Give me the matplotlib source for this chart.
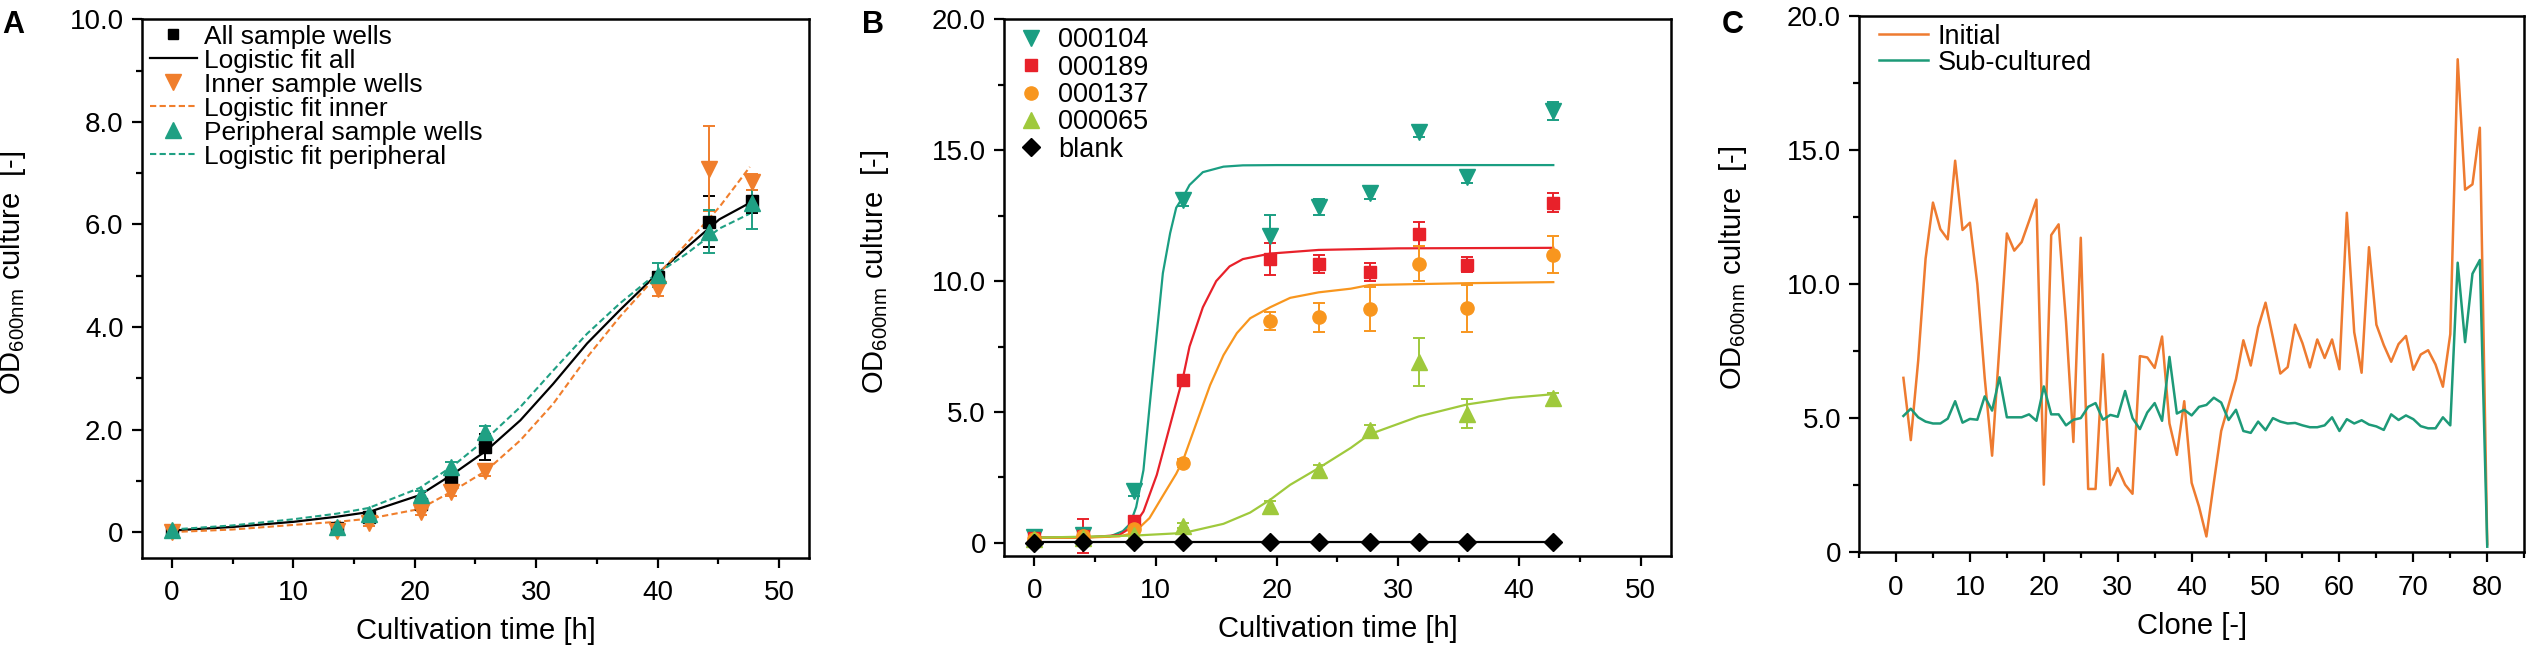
import matplotlib
matplotlib.use("Agg")
import matplotlib.pyplot as plt
from matplotlib.ticker import MultipleLocator, FuncFormatter
from matplotlib.lines import Line2D

plt.rcParams['font.family'] = ['Liberation Sans', 'DejaVu Sans']
plt.rcParams['mathtext.fontset'] = 'custom'
plt.rcParams['mathtext.rm'] = 'Liberation Sans'

# ---- Panel A: sample wells ----
time_a = [0, 13.6, 16.2, 20.5, 23.0, 25.8, 40.0, 44.2, 47.75]
all_wells = [0.02, 0.08, 0.29, 0.55, 1.04, 1.66, 4.98, 6.05, 6.45]
all_err = [0.03, 0.05, 0.05, 0.08, 0.12, 0.25, 0.1, 0.5, 0.22]
inner_wells = [0.0, 0.02, 0.17, 0.39, 0.78, 1.2, 4.75, 7.09, 6.83]
inner_err = [0.03, 0.05, 0.05, 0.05, 0.08, 0.1, 0.15, 0.83, 0.15]
peri_wells = [0.05, 0.1, 0.35, 0.73, 1.27, 1.95, 5.01, 5.86, 6.41]
peri_err = [0.03, 0.05, 0.05, 0.08, 0.1, 0.12, 0.24, 0.42, 0.5]

fit_time_a = [0, 5, 10, 13.6, 16.2, 20.4, 23.2, 25.9, 28.7, 31.4, 34.2, 36.9, 39.6, 42.4, 45.1, 47.6]
fit_all = [0.03, 0.1, 0.2, 0.30, 0.39, 0.72, 1.14, 1.59, 2.18, 2.89, 3.68, 4.33, 4.95, 5.55, 6.1, 6.42]
fit_inner = [0.0, 0.05, 0.14, 0.2, 0.26, 0.45, 0.81, 1.2, 1.79, 2.5, 3.41, 4.2, 4.91, 5.63, 6.34, 7.12]
fit_peri = [0.05, 0.13, 0.25, 0.36, 0.47, 0.86, 1.30, 1.82, 2.44, 3.15, 3.87, 4.46, 4.98, 5.43, 5.92, 6.21]

# ---- Panel B: clones ----
time_b = [0, 4.0, 8.2, 12.3, 19.45, 23.45, 27.65, 31.7, 35.7, 42.8]
clone_names = ['000104', '000189', '000137', '000065', 'blank']
od_104 = [0.24, 0.31, 1.98, 13.1, 11.72, 12.82, 13.38, 15.7, 13.98, 16.5]
err_104 = [0.15, 0.1, 0.2, 0.25, 0.8, 0.3, 0.25, 0.2, 0.25, 0.35]
od_189 = [0.17, 0.28, 0.85, 6.22, 10.84, 10.66, 10.35, 11.8, 10.63, 13.0]
err_189 = [0.1, 0.65, 0.15, 0.1, 0.62, 0.35, 0.35, 0.45, 0.3, 0.35]
od_137 = [0.15, 0.25, 0.52, 3.04, 8.47, 8.62, 8.93, 10.67, 8.96, 11.01]
err_137 = [0.1, 0.1, 0.1, 0.15, 0.35, 0.55, 0.83, 0.66, 0.9, 0.72]
od_065 = [0.15, 0.2, 0.3, 0.66, 1.4, 2.78, 4.3, 6.91, 4.93, 5.54]
err_065 = [0.05, 0.1, 0.1, 0.1, 0.2, 0.2, 0.2, 0.9, 0.55, 0.2]
od_blank = [0.0, 0.05, 0.02, 0.03, 0.03, 0.03, 0.03, 0.03, 0.03, 0.05]
err_blank = [0.02] * 10

fit_t_104 = [0, 4, 6.2, 7.3, 7.9, 8.4, 9.0, 9.5, 10.1, 10.6, 11.2, 11.7, 12.3, 12.8, 13.9, 15.6, 17.2, 20, 30, 42.8]
fit_104 = [0.2, 0.22, 0.24, 0.45, 0.73, 1.37, 2.78, 5.19, 8.0, 10.3, 11.83, 12.8, 13.24, 13.67, 14.16, 14.37, 14.42, 14.43, 14.43, 14.43]
fit_t_189 = [0, 4, 7, 8.2, 9.0, 10.1, 11.2, 12.3, 12.8, 13.9, 15.0, 16.1, 17.2, 19.45, 23.45, 30, 42.8]
fit_189 = [0.2, 0.2, 0.3, 0.66, 1.2, 2.6, 4.5, 6.4, 7.5, 9.0, 10.0, 10.56, 10.84, 11.05, 11.19, 11.25, 11.27]
fit_t_137 = [0, 4, 7, 8.2, 9.5, 10.6, 11.7, 12.3, 13.4, 14.5, 15.6, 16.7, 17.8, 19.45, 21.1, 23.45, 26.1, 27.65, 35.7, 42.8]
fit_137 = [0.2, 0.2, 0.25, 0.38, 0.95, 1.8, 2.64, 3.2, 4.62, 6.03, 7.17, 8.01, 8.58, 9.0, 9.36, 9.57, 9.71, 9.85, 9.92, 9.96]
fit_t_065 = [0, 8.2, 12.3, 15.6, 17.8, 19.45, 21.1, 23.45, 26.1, 27.65, 31.7, 35.7, 39.3, 42.8]
fit_065 = [0.2, 0.28, 0.38, 0.73, 1.16, 1.65, 2.22, 2.86, 3.63, 4.15, 4.83, 5.29, 5.54, 5.68]
fit_t_blank = [0, 42.8]
fit_blank = [0.05, 0.05]

# ---- Panel C: clone screening ----
clones = list(range(1, 81))
initial = [6.50, 4.18, 7.14, 10.94, 13.03, 12.04, 11.66, 14.59, 12.01, 12.28,
           10.0, 6.5, 3.6, 7.7, 11.88, 11.24, 11.56, 12.34, 13.14, 2.52,
           11.82, 12.22, 8.6, 4.11, 11.72, 2.36, 2.36, 7.38, 2.5, 3.14,
           2.52, 2.18, 7.31, 7.26, 6.87, 8.04, 4.8, 3.63, 5.63, 2.59,
           1.70, 0.59, 2.59, 4.52, 5.49, 6.45, 7.90, 6.96, 8.38, 9.30,
           8.0, 6.66, 6.9, 8.48, 7.79, 6.89, 7.93, 7.24, 7.93, 6.82,
           12.65, 8.2, 6.69, 11.37, 8.48, 7.72, 7.1, 7.76, 8.06, 6.8,
           7.37, 7.53, 7.0, 6.17, 8.13, 18.37, 13.51, 13.71, 15.82, 0.3]
subcultured = [5.08, 5.35, 5.03, 4.87, 4.8, 4.8, 4.98, 5.63, 4.83, 4.97,
               4.94, 5.81, 5.28, 6.52, 5.03, 5.03, 5.03, 5.14, 4.9, 6.18,
               5.14, 5.14, 4.73, 4.94, 5.0, 5.42, 5.56, 4.94, 5.12, 5.05,
               6.01, 5.0, 4.59, 5.21, 5.56, 4.9, 7.28, 5.17, 5.31, 5.1,
               5.42, 5.49, 5.76, 5.58, 4.93, 5.31, 4.52, 4.45, 4.87, 4.55,
               5.0, 4.87, 4.8, 4.82, 4.73, 4.66, 4.66, 4.73, 5.03, 4.52,
               4.96, 4.8, 4.92, 4.76, 4.69, 4.56, 5.14, 4.93, 5.1, 4.96,
               4.7, 4.62, 4.62, 5.03, 4.73, 10.79, 7.83, 10.38, 10.89, 0.21]

ORANGE = '#F07E2C'
TEAL = '#1FA083'
ylabel = 'OD$_{\\mathrm{600nm}}$ culture  [-]'


def fmt_tick(v, pos):
    return '0' if abs(v) < 1e-9 else f'{v:.1f}'


def style(ax, ymaj, ymin, xmaj, xmin):
    for side in ['left', 'right', 'top', 'bottom']:
        ax.spines[side].set_linewidth(1.8)
    ax.tick_params(which='major', direction='out', length=7, width=1.6, labelsize=20, pad=6,
                   top=False, right=False)
    ax.tick_params(which='minor', direction='out', length=4.5, width=1.6, top=False, right=False)
    ax.tick_params(axis='x', which='major', pad=9)
    ax.yaxis.set_major_locator(MultipleLocator(ymaj))
    ax.yaxis.set_minor_locator(MultipleLocator(ymin))
    ax.xaxis.set_major_locator(MultipleLocator(xmaj))
    ax.xaxis.set_minor_locator(MultipleLocator(xmin))
    ax.yaxis.set_major_formatter(FuncFormatter(fmt_tick))
    ax.set_ylabel(ylabel, fontsize=21)
    ax.yaxis.set_label_coords(-0.17, 0.53)


fig = plt.figure(figsize=(25.29, 6.52), dpi=100)
ax_a = fig.add_axes([0.0560, 0.1446, 0.2640, 0.8258])
ax_b = fig.add_axes([0.3970, 0.1472, 0.2637, 0.8233])
ax_c = fig.add_axes([0.7351, 0.1529, 0.2630, 0.8233])

# Panel A
eb = dict(capsize=4.5, elinewidth=1.4, capthick=1.4, linestyle='none')
ax_a.plot(fit_time_a, fit_all, color='black', lw=1.6, zorder=3)
ax_a.plot(fit_time_a, fit_inner, color=ORANGE, lw=1.5, ls=(0, (3, 1.6)), zorder=3)
ax_a.plot(fit_time_a, fit_peri, color=TEAL, lw=1.5, ls=(0, (3, 1.6)), zorder=3)
ax_a.errorbar(time_a, all_wells, yerr=all_err, fmt='s', color='black', ms=8, zorder=4, **eb)
ax_a.errorbar(time_a, inner_wells, yerr=inner_err, fmt='v', color=ORANGE, ms=12, zorder=4, **eb)
ax_a.errorbar(time_a, peri_wells, yerr=peri_err, fmt='^', color=TEAL, ms=12, zorder=4, **eb)
ax_a.set_xlim(-2.5, 52.5)
ax_a.set_ylim(-0.5, 10)
style(ax_a, 2, 1, 10, 5)
ax_a.set_xlabel('Cultivation time [h]', fontsize=21, labelpad=8)

handles_a = [
    Line2D([], [], marker='s', color='black', ls='none', ms=7.5),
    Line2D([], [], color='black', lw=1.6),
    Line2D([], [], marker='v', color=ORANGE, ls='none', ms=12),
    Line2D([], [], color=ORANGE, lw=1.5, ls=(0, (3, 1.6))),
    Line2D([], [], marker='^', color=TEAL, ls='none', ms=12),
    Line2D([], [], color=TEAL, lw=1.5, ls=(0, (3, 1.6))),
]
labels_a = ['All sample wells', 'Logistic fit all', 'Inner sample wells',
            'Logistic fit inner', 'Peripheral sample wells', 'Logistic fit peripheral']
ax_a.legend(handles_a, labels_a, loc='upper left', bbox_to_anchor=(0.012, 0.99), frameon=False,
            fontsize=19, handlelength=1.8, handletextpad=0.25, labelspacing=0.0,
            borderpad=0, borderaxespad=0)

# Panel B
clone_colors = ['#1A9E82', '#E8212A', '#F8961E', '#9FC93C', 'black']
clone_markers = ['v', 's', 'o', '^', 'D']
clone_ms = [12, 8.5, 9.5, 12, 9]
od_b = [od_104, od_189, od_137, od_065, od_blank]
err_b = [err_104, err_189, err_137, err_065, err_blank]
fit_t_b = [fit_t_104, fit_t_189, fit_t_137, fit_t_065, fit_t_blank]
fit_b = [fit_104, fit_189, fit_137, fit_065, fit_blank]
for i in range(5):
    ax_b.plot(fit_t_b[i], fit_b[i], color=clone_colors[i], lw=1.6, zorder=3)
for i in range(5):
    ax_b.errorbar(time_b, od_b[i], yerr=err_b[i], fmt=clone_markers[i], color=clone_colors[i],
                  ms=clone_ms[i], label=clone_names[i], zorder=4, **eb)
ax_b.set_xlim(-2.5, 52.5)
ax_b.set_ylim(-0.5, 20)
style(ax_b, 5, 2.5, 10, 5)
ax_b.set_xlabel('Cultivation time [h]', fontsize=21, labelpad=8)
handles_b = [Line2D([], [], marker=clone_markers[i], color=clone_colors[i], ls='none', ms=clone_ms[i])
             for i in range(5)]
ax_b.legend(handles_b, clone_names, loc='upper left', bbox_to_anchor=(0.02, 0.985), frameon=False,
            fontsize=19.5, handlelength=1.0, handletextpad=0.5, labelspacing=0.05,
            borderpad=0, borderaxespad=0)

# Panel C
ax_c.plot(clones, initial, color='#EE7B30', lw=1.8, label='Initial')
ax_c.plot(clones, subcultured, color='#1D9A78', lw=1.8, label='Sub-cultured')
ax_c.set_xlim(-5, 85)
ax_c.set_ylim(0, 20)
style(ax_c, 5, 2.5, 10, 5)
ax_c.yaxis.set_label_coords(-0.165, 0.53)
ax_c.set_xlabel('Clone [-]', fontsize=21, labelpad=8)
ax_c.legend(loc='upper left', bbox_to_anchor=(0.03, 0.985), frameon=False, fontsize=19.5,
            handlelength=1.8, handletextpad=0.35, labelspacing=0.0, borderpad=0, borderaxespad=0)

# Panel letters
fig.text(0.001, 0.985, 'A', fontsize=22, fontweight='bold', va='top', ha='left')
fig.text(0.341, 0.985, 'B', fontsize=22, fontweight='bold', va='top', ha='left')
fig.text(0.681, 0.985, 'C', fontsize=22, fontweight='bold', va='top', ha='left')

fig.savefig('out.png', dpi=100)
